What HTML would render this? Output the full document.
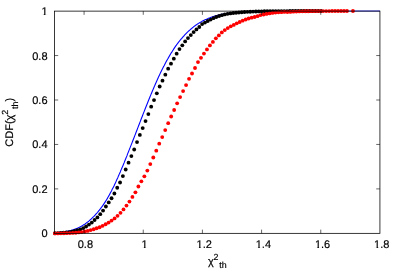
<!DOCTYPE html>
<html><head><meta charset="utf-8"><title>CDF</title>
<style>
html,body{margin:0;padding:0;background:#fff;}
svg{display:block;}
text{text-rendering:geometricPrecision;font-family:"Liberation Sans",sans-serif;font-size:11px;fill:#000;stroke:#000;stroke-width:0.18px;}
</style></head><body>
<svg width="400" height="280" viewBox="0 0 400 280">
<rect x="0" y="0" width="400" height="280" fill="#fff"/>
<path d="M54.8,232.73 L55.3,232.70 L55.8,232.66 L56.3,232.62 L56.8,232.58 L57.3,232.54 L57.8,232.50 L58.3,232.45 L58.8,232.41 L59.3,232.36 L59.8,232.31 L60.3,232.25 L60.8,232.20 L61.3,232.14 L61.8,232.08 L62.3,232.01 L62.8,231.95 L63.3,231.88 L63.8,231.81 L64.3,231.73 L64.8,231.66 L65.3,231.58 L65.8,231.49 L66.3,231.40 L66.8,231.31 L67.3,231.22 L67.8,231.12 L68.3,231.02 L68.8,230.92 L69.3,230.81 L69.8,230.70 L70.3,230.58 L70.8,230.45 L71.3,230.31 L71.8,230.16 L72.3,230.01 L72.8,229.86 L73.3,229.69 L73.8,229.52 L74.3,229.35 L74.8,229.17 L75.3,228.98 L75.8,228.79 L76.3,228.59 L76.8,228.39 L77.3,228.18 L77.8,227.96 L78.3,227.74 L78.8,227.50 L79.3,227.27 L79.8,227.02 L80.3,226.77 L80.8,226.50 L81.3,226.24 L81.8,225.96 L82.3,225.67 L82.8,225.38 L83.3,225.08 L83.8,224.77 L84.3,224.45 L84.8,224.12 L85.3,223.77 L85.8,223.41 L86.3,223.05 L86.8,222.67 L87.3,222.28 L87.8,221.89 L88.3,221.48 L88.8,221.07 L89.3,220.64 L89.8,220.21 L90.3,219.76 L90.8,219.30 L91.3,218.83 L91.8,218.35 L92.3,217.86 L92.8,217.36 L93.3,216.85 L93.9,216.32 L94.4,215.80 L94.9,215.27 L95.4,214.74 L95.9,214.20 L96.4,213.64 L96.9,213.07 L97.4,212.50 L97.9,211.90 L98.4,211.30 L98.9,210.69 L99.4,210.06 L99.9,209.43 L100.4,208.78 L100.9,208.11 L101.4,207.44 L101.9,206.75 L102.4,206.06 L102.9,205.35 L103.4,204.62 L103.9,203.89 L104.4,203.14 L104.9,202.38 L105.4,201.61 L105.9,200.83 L106.4,200.03 L106.9,199.22 L107.4,198.40 L107.8,197.57 L108.3,196.73 L108.8,195.87 L109.3,195.00 L109.8,194.12 L110.2,193.23 L110.7,192.33 L111.2,191.41 L111.7,190.48 L112.1,189.54 L112.6,188.59 L113.1,187.63 L113.6,186.66 L114.1,185.67 L114.5,184.68 L115.0,183.67 L115.5,182.65 L116.0,181.62 L116.4,180.58 L116.9,179.53 L117.4,178.47 L117.9,177.40 L118.3,176.32 L118.8,175.23 L119.3,174.13 L119.8,173.02 L120.3,171.91 L120.7,170.78 L121.2,169.64 L121.7,168.50 L122.2,167.34 L122.7,166.18 L123.2,165.01 L123.7,163.83 L124.2,162.65 L124.6,161.45 L125.1,160.25 L125.6,159.05 L126.1,157.83 L126.6,156.61 L127.1,155.39 L127.5,154.15 L128.0,152.91 L128.5,151.67 L129.0,150.42 L129.5,149.17 L130.0,147.91 L130.5,146.65 L131.0,145.38 L131.5,144.11 L132.0,142.83 L132.5,141.55 L133.0,140.27 L133.5,138.99 L134.0,137.70 L134.5,136.41 L135.0,135.12 L135.5,133.83 L136.0,132.53 L136.5,131.24 L137.0,129.94 L137.5,128.64 L138.0,127.35 L138.5,126.05 L139.0,124.75 L139.5,123.46 L140.0,122.16 L140.5,120.87 L141.0,119.57 L141.5,118.28 L142.0,116.99 L142.5,115.70 L143.0,114.42 L143.5,113.14 L144.0,111.86 L144.5,110.58 L145.0,109.31 L145.5,108.04 L146.0,106.77 L146.5,105.51 L147.0,104.26 L147.5,103.00 L148.0,101.76 L148.5,100.52 L149.0,99.28 L149.5,98.05 L150.0,96.83 L150.5,95.61 L151.0,94.39 L151.5,93.19 L152.0,91.99 L152.5,90.80 L153.0,89.61 L153.5,88.43 L154.0,87.26 L154.5,86.10 L155.0,84.95 L155.5,83.80 L156.0,82.66 L156.5,81.53 L157.0,80.41 L157.5,79.30 L158.0,78.19 L158.5,77.10 L159.0,76.01 L159.5,74.93 L160.0,73.86 L160.5,72.81 L161.0,71.76 L161.5,70.72 L162.0,69.69 L162.5,68.67 L163.0,67.66 L163.5,66.66 L164.1,65.67 L164.6,64.69 L165.1,63.73 L165.6,62.77 L166.1,61.82 L166.6,60.88 L167.1,59.96 L167.7,59.04 L168.2,58.14 L168.7,57.24 L169.2,56.36 L169.7,55.49 L170.2,54.63 L170.7,53.78 L171.2,52.94 L171.8,52.11 L172.3,51.29 L172.8,50.48 L173.3,49.68 L173.8,48.90 L174.3,48.12 L174.8,47.36 L175.3,46.61 L175.8,45.86 L176.4,45.13 L176.9,44.43 L177.4,43.75 L177.9,43.07 L178.4,42.41 L178.9,41.76 L179.4,41.11 L179.9,40.48 L180.4,39.86 L180.9,39.24 L181.5,38.64 L182.0,38.05 L182.5,37.46 L183.0,36.89 L183.5,36.32 L184.0,35.77 L184.5,35.23 L185.0,34.69 L185.5,34.17 L186.0,33.65 L186.5,33.14 L187.0,32.64 L187.5,32.16 L188.0,31.68 L188.5,31.20 L189.0,30.74 L189.5,30.29 L190.0,29.85 L190.5,29.41 L191.0,28.98 L191.5,28.56 L192.0,28.14 L192.5,27.73 L193.0,27.32 L193.5,26.93 L194.0,26.54 L194.5,26.16 L195.0,25.79 L195.5,25.42 L196.0,25.06 L196.5,24.72 L197.0,24.37 L197.5,24.04 L198.0,23.71 L198.6,23.39 L199.1,23.08 L199.6,22.77 L200.1,22.47 L200.6,22.18 L201.1,21.90 L201.6,21.62 L202.1,21.34 L202.6,21.08 L203.1,20.82 L203.6,20.56 L204.1,20.32 L204.6,20.07 L205.1,19.84 L205.6,19.61 L206.1,19.38 L206.6,19.16 L207.1,18.95 L207.6,18.74 L208.1,18.52 L208.6,18.31 L209.1,18.10 L209.6,17.90 L210.1,17.70 L210.6,17.51 L211.1,17.33 L211.6,17.14 L212.1,16.97 L212.6,16.79 L213.1,16.62 L213.6,16.46 L214.1,16.30 L214.6,16.15 L215.1,16.00 L215.6,15.85 L216.1,15.71 L216.6,15.57 L217.1,15.43 L217.6,15.30 L218.1,15.17 L218.6,15.05 L219.1,14.93 L219.6,14.81 L220.1,14.70 L220.6,14.59 L221.1,14.48 L221.6,14.38 L222.1,14.27 L222.6,14.18 L223.1,14.08 L223.6,13.99 L224.1,13.90 L224.6,13.81 L225.1,13.73 L225.6,13.64 L226.1,13.56 L226.6,13.49 L227.1,13.41 L227.6,13.33 L228.1,13.25 L228.6,13.17 L229.1,13.10 L229.6,13.03 L230.1,12.96 L230.6,12.89 L231.1,12.82 L231.6,12.76 L232.1,12.70 L232.6,12.64 L233.1,12.58 L233.6,12.53 L234.1,12.47 L234.6,12.42 L235.1,12.37 L235.6,12.32" fill="none" stroke="#0000ff" stroke-width="1.1" stroke-linejoin="round"/>
<path d="M236.1,12.27 L239.1,12.02 L242.1,11.81 L245.1,11.65 L248.1,11.51 L251.1,11.41 L254.1,11.32 L257.1,11.25 L260.1,11.20 L263.1,11.15 L266.1,11.12 L269.1,11.10 L272.1,11.08 L275.1,11.06 L278.1,11.05 L281.1,11.04 L284.1,11.03 L287.1,11.03 L290.1,11.02 L293.1,11.02 L296.1,11.02 L299.1,11.01 L302.1,11.01 L305.1,11.01 L308.1,11.01 L311.1,11.01 L314.1,11.01 L317.1,11.01 L320.1,11.01 L323.1,11.01 L326.1,11.01 L329.1,11.01 L332.1,11.01 L335.1,11.01 L338.1,11.01 L341.1,11.01 L344.1,11.01 L347.1,11.01 L350.1,11.01 L353.1,11.01 L356.1,11.01 L359.1,11.01 L362.1,11.01 L365.1,11.01 L368.1,11.01 L371.1,11.01 L374.1,11.01 L377.1,11.01 L379.93,10.98" fill="none" stroke="#0000ff" stroke-width="0.78" stroke-linejoin="round"/>
<g fill="#000"><circle cx="54.96" cy="233.24" r="1.92"/><circle cx="57.79" cy="233.12" r="1.92"/><circle cx="60.62" cy="232.96" r="1.92"/><circle cx="63.45" cy="232.75" r="1.92"/><circle cx="66.28" cy="232.47" r="1.92"/><circle cx="69.11" cy="232.09" r="1.92"/><circle cx="71.94" cy="231.58" r="1.92"/><circle cx="74.77" cy="230.94" r="1.92"/><circle cx="77.60" cy="230.15" r="1.92"/><circle cx="80.43" cy="229.30" r="1.92"/><circle cx="83.26" cy="228.10" r="1.92"/><circle cx="86.09" cy="226.50" r="1.92"/><circle cx="88.92" cy="224.60" r="1.92"/><circle cx="91.75" cy="222.55" r="1.92"/><circle cx="94.58" cy="220.00" r="1.92"/><circle cx="97.41" cy="217.45" r="1.92"/><circle cx="100.24" cy="214.15" r="1.92"/><circle cx="103.07" cy="210.55" r="1.92"/><circle cx="105.90" cy="206.50" r="1.92"/><circle cx="108.73" cy="202.45" r="1.92"/><circle cx="111.56" cy="198.25" r="1.92"/><circle cx="114.39" cy="193.50" r="1.92"/><circle cx="117.22" cy="187.75" r="1.92"/><circle cx="120.05" cy="182.50" r="1.92"/><circle cx="122.88" cy="176.10" r="1.92"/><circle cx="125.71" cy="169.50" r="1.92"/><circle cx="128.54" cy="162.70" r="1.92"/><circle cx="131.37" cy="156.10" r="1.92"/><circle cx="134.20" cy="149.50" r="1.92"/><circle cx="137.03" cy="142.10" r="1.92"/><circle cx="139.86" cy="134.90" r="1.92"/><circle cx="142.69" cy="128.10" r="1.92"/><circle cx="145.52" cy="121.10" r="1.92"/><circle cx="148.35" cy="114.10" r="1.92"/><circle cx="151.18" cy="106.70" r="1.92"/><circle cx="154.01" cy="100.10" r="1.92"/><circle cx="156.84" cy="93.30" r="1.92"/><circle cx="159.67" cy="86.50" r="1.92"/><circle cx="162.50" cy="80.70" r="1.92"/><circle cx="165.33" cy="74.70" r="1.92"/><circle cx="168.16" cy="68.70" r="1.92"/><circle cx="170.99" cy="63.70" r="1.92"/><circle cx="173.82" cy="58.70" r="1.92"/><circle cx="176.65" cy="53.70" r="1.92"/><circle cx="179.48" cy="49.10" r="1.92"/><circle cx="182.31" cy="45.30" r="1.92"/><circle cx="185.14" cy="41.40" r="1.92"/><circle cx="187.97" cy="38.10" r="1.92"/><circle cx="190.80" cy="35.10" r="1.92"/><circle cx="193.63" cy="32.10" r="1.92"/><circle cx="196.46" cy="29.40" r="1.92"/><circle cx="199.29" cy="27.00" r="1.92"/><circle cx="202.12" cy="24.10" r="1.92"/><circle cx="204.95" cy="22.60" r="1.92"/><circle cx="207.78" cy="21.00" r="1.92"/><circle cx="210.61" cy="19.60" r="1.92"/><circle cx="213.44" cy="18.20" r="1.92"/><circle cx="216.27" cy="17.00" r="1.92"/><circle cx="219.10" cy="16.00" r="1.92"/><circle cx="221.93" cy="15.20" r="1.92"/><circle cx="224.76" cy="14.40" r="1.92"/><circle cx="227.59" cy="13.80" r="1.92"/><circle cx="230.42" cy="13.40" r="1.92"/><circle cx="233.25" cy="13.04" r="1.92"/><circle cx="236.08" cy="12.73" r="1.92"/><circle cx="238.91" cy="12.46" r="1.92"/><circle cx="241.74" cy="12.22" r="1.92"/><circle cx="244.57" cy="12.02" r="1.92"/><circle cx="247.40" cy="11.85" r="1.92"/><circle cx="250.23" cy="11.71" r="1.92"/><circle cx="253.06" cy="11.58" r="1.92"/><circle cx="255.89" cy="11.48" r="1.92"/><circle cx="258.72" cy="11.39" r="1.92"/><circle cx="261.55" cy="11.32" r="1.92"/><circle cx="264.38" cy="11.26" r="1.92"/><circle cx="267.21" cy="11.21" r="1.92"/><circle cx="270.04" cy="11.17" r="1.92"/><circle cx="272.87" cy="11.14" r="1.92"/><circle cx="275.70" cy="11.11" r="1.92"/><circle cx="278.53" cy="11.09" r="1.92"/><circle cx="281.36" cy="11.07" r="1.92"/><circle cx="284.19" cy="11.06" r="1.92"/><circle cx="287.02" cy="11.05" r="1.92"/><circle cx="289.85" cy="11.04" r="1.92"/><circle cx="292.68" cy="11.03" r="1.92"/><circle cx="295.51" cy="11.02" r="1.92"/><circle cx="298.34" cy="11.02" r="1.92"/><circle cx="301.17" cy="11.01" r="1.92"/><circle cx="304.00" cy="11.01" r="1.92"/><circle cx="306.83" cy="11.01" r="1.92"/><circle cx="309.66" cy="11.01" r="1.92"/><circle cx="312.49" cy="11.01" r="1.92"/><circle cx="315.32" cy="11.00" r="1.92"/><circle cx="318.15" cy="11.00" r="1.92"/><circle cx="320.98" cy="11.00" r="1.92"/></g>
<g fill="#ff0000"><circle cx="54.95" cy="233.43" r="1.92"/><circle cx="57.93" cy="233.39" r="1.92"/><circle cx="60.91" cy="233.35" r="1.92"/><circle cx="63.89" cy="233.29" r="1.92"/><circle cx="66.87" cy="233.20" r="1.92"/><circle cx="69.85" cy="233.08" r="1.92"/><circle cx="72.83" cy="232.92" r="1.92"/><circle cx="75.81" cy="232.71" r="1.92"/><circle cx="78.79" cy="232.44" r="1.92"/><circle cx="81.77" cy="232.05" r="1.92"/><circle cx="84.75" cy="231.53" r="1.92"/><circle cx="87.73" cy="230.88" r="1.92"/><circle cx="90.71" cy="230.06" r="1.92"/><circle cx="93.69" cy="229.25" r="1.92"/><circle cx="96.67" cy="228.25" r="1.92"/><circle cx="99.65" cy="227.25" r="1.92"/><circle cx="102.63" cy="225.85" r="1.92"/><circle cx="105.61" cy="224.25" r="1.92"/><circle cx="108.59" cy="222.55" r="1.92"/><circle cx="111.57" cy="220.60" r="1.92"/><circle cx="114.55" cy="218.40" r="1.92"/><circle cx="117.53" cy="215.80" r="1.92"/><circle cx="120.51" cy="212.80" r="1.92"/><circle cx="123.49" cy="209.40" r="1.92"/><circle cx="126.47" cy="205.60" r="1.92"/><circle cx="129.45" cy="201.60" r="1.92"/><circle cx="132.43" cy="196.90" r="1.92"/><circle cx="135.41" cy="192.30" r="1.92"/><circle cx="138.39" cy="186.50" r="1.92"/><circle cx="141.37" cy="181.30" r="1.92"/><circle cx="144.35" cy="176.30" r="1.92"/><circle cx="147.33" cy="170.60" r="1.92"/><circle cx="150.31" cy="164.10" r="1.92"/><circle cx="153.29" cy="157.50" r="1.92"/><circle cx="156.27" cy="150.70" r="1.92"/><circle cx="159.25" cy="143.70" r="1.92"/><circle cx="162.23" cy="137.10" r="1.92"/><circle cx="165.21" cy="130.10" r="1.92"/><circle cx="168.19" cy="123.20" r="1.92"/><circle cx="171.17" cy="116.50" r="1.92"/><circle cx="174.15" cy="110.00" r="1.92"/><circle cx="177.13" cy="103.30" r="1.92"/><circle cx="180.11" cy="97.10" r="1.92"/><circle cx="183.09" cy="91.10" r="1.92"/><circle cx="186.07" cy="85.10" r="1.92"/><circle cx="189.05" cy="78.85" r="1.92"/><circle cx="192.03" cy="73.50" r="1.92"/><circle cx="195.01" cy="68.00" r="1.92"/><circle cx="197.99" cy="62.10" r="1.92"/><circle cx="200.97" cy="57.80" r="1.92"/><circle cx="203.95" cy="53.60" r="1.92"/><circle cx="206.93" cy="49.40" r="1.92"/><circle cx="209.91" cy="45.40" r="1.92"/><circle cx="212.89" cy="41.90" r="1.92"/><circle cx="215.87" cy="38.30" r="1.92"/><circle cx="218.85" cy="35.40" r="1.92"/><circle cx="221.83" cy="32.40" r="1.92"/><circle cx="224.81" cy="30.10" r="1.92"/><circle cx="227.79" cy="28.10" r="1.92"/><circle cx="230.77" cy="26.30" r="1.92"/><circle cx="233.75" cy="24.90" r="1.92"/><circle cx="236.73" cy="23.30" r="1.92"/><circle cx="239.71" cy="22.00" r="1.92"/><circle cx="242.69" cy="20.70" r="1.92"/><circle cx="245.67" cy="19.50" r="1.92"/><circle cx="248.65" cy="18.50" r="1.92"/><circle cx="251.63" cy="17.70" r="1.92"/><circle cx="254.61" cy="17.00" r="1.92"/><circle cx="257.59" cy="16.20" r="1.92"/><circle cx="260.57" cy="15.10" r="1.92"/><circle cx="263.55" cy="14.50" r="1.92"/><circle cx="266.53" cy="13.90" r="1.92"/><circle cx="269.51" cy="13.40" r="1.92"/><circle cx="272.49" cy="12.95" r="1.92"/><circle cx="275.47" cy="12.60" r="1.92"/><circle cx="278.45" cy="12.35" r="1.92"/><circle cx="281.43" cy="12.15" r="1.92"/><circle cx="284.41" cy="11.95" r="1.92"/><circle cx="287.39" cy="12.10" r="1.92"/><circle cx="290.37" cy="11.90" r="1.92"/><circle cx="293.35" cy="11.70" r="1.92"/><circle cx="296.33" cy="11.55" r="1.92"/><circle cx="299.31" cy="11.40" r="1.92"/><circle cx="302.29" cy="11.33" r="1.92"/><circle cx="305.27" cy="11.27" r="1.92"/><circle cx="308.25" cy="11.22" r="1.92"/><circle cx="311.23" cy="11.18" r="1.92"/><circle cx="314.21" cy="11.15" r="1.92"/><circle cx="317.19" cy="11.12" r="1.92"/><circle cx="320.17" cy="11.10" r="1.92"/><circle cx="323.15" cy="11.08" r="1.92"/><circle cx="326.13" cy="11.07" r="1.92"/><circle cx="329.11" cy="11.05" r="1.92"/><circle cx="332.09" cy="11.04" r="1.92"/><circle cx="335.07" cy="11.03" r="1.92"/><circle cx="338.05" cy="11.03" r="1.92"/><circle cx="341.03" cy="11.02" r="1.92"/><circle cx="344.01" cy="11.02" r="1.92"/><circle cx="346.99" cy="11.01" r="1.92"/><circle cx="352.95" cy="11.01" r="1.92"/></g>
<g stroke="#000" stroke-width="0.78" fill="none">
<rect x="54.5" y="11.12" width="325.43" height="222.22"/>
<g stroke-width="0.6"><path d="M84.08,233.34 v-3.7 M84.08,11.12 v3.7"/><path d="M143.25,233.34 v-3.7 M143.25,11.12 v3.7"/><path d="M202.42,233.34 v-3.7 M202.42,11.12 v3.7"/><path d="M261.59,233.34 v-3.7 M261.59,11.12 v3.7"/><path d="M320.76,233.34 v-3.7 M320.76,11.12 v3.7"/><path d="M54.5,188.90 h3.7 M379.93,188.90 h-3.7"/><path d="M54.5,144.45 h3.7 M379.93,144.45 h-3.7"/><path d="M54.5,100.01 h3.7 M379.93,100.01 h-3.7"/><path d="M54.5,55.56 h3.7 M379.93,55.56 h-3.7"/></g>
</g>
<defs><filter id="tb" x="-5%" y="-5%" width="110%" height="110%"><feGaussianBlur stdDeviation="0.3"/></filter></defs>
<g filter="url(#tb)"><text x="85.38" y="248.2" text-anchor="middle">0.8</text><text x="144.55" y="248.2" text-anchor="middle">1</text><text x="204.22" y="248.2" text-anchor="middle">1.2</text><text x="263.39" y="248.2" text-anchor="middle">1.4</text><text x="322.56" y="248.2" text-anchor="middle">1.6</text><text x="381.73" y="248.2" text-anchor="middle">1.8</text><text x="47.5" y="236.74" text-anchor="end">0</text><text x="47.5" y="193.00" text-anchor="end">0.2</text><text x="47.5" y="147.75" text-anchor="end">0.4</text><text x="47.5" y="104.11" text-anchor="end">0.6</text><text x="47.5" y="59.66" text-anchor="end">0.8</text><text x="47.5" y="15.22" text-anchor="end">1</text>
<text x="207.9" y="264.7">χ<tspan font-size="8.8px" x="213.4" y="259.6">2</tspan><tspan font-size="8.8px" x="219.2" y="268">th</tspan></text>
<text transform="translate(13.1,146.7) rotate(-90)"><tspan x="0" y="0">CDF(χ</tspan><tspan font-size="8.8px" x="32.0" y="-5.5">2</tspan><tspan font-size="8.8px" x="37.7" y="4.7">th</tspan><tspan x="45.3" y="0">)</tspan></text>
</g>
<g fill="#fff"><rect x="141.19" y="247.05" width="2.7" height="1.6"/><rect x="145.59" y="247.05" width="2.5" height="1.6"/><rect x="196.28" y="247.05" width="2.7" height="1.6"/><rect x="200.68" y="247.05" width="2.5" height="1.6"/><rect x="255.45" y="247.05" width="2.7" height="1.6"/><rect x="259.85" y="247.05" width="2.5" height="1.6"/><rect x="314.61" y="247.05" width="2.7" height="1.6"/><rect x="319.01" y="247.05" width="2.5" height="1.6"/><rect x="373.78" y="247.05" width="2.7" height="1.6"/><rect x="378.18" y="247.05" width="2.5" height="1.6"/><rect x="41.08" y="14.07" width="2.7" height="1.6"/><rect x="45.48" y="14.07" width="2.5" height="1.6"/></g>
</svg>
</body></html>
